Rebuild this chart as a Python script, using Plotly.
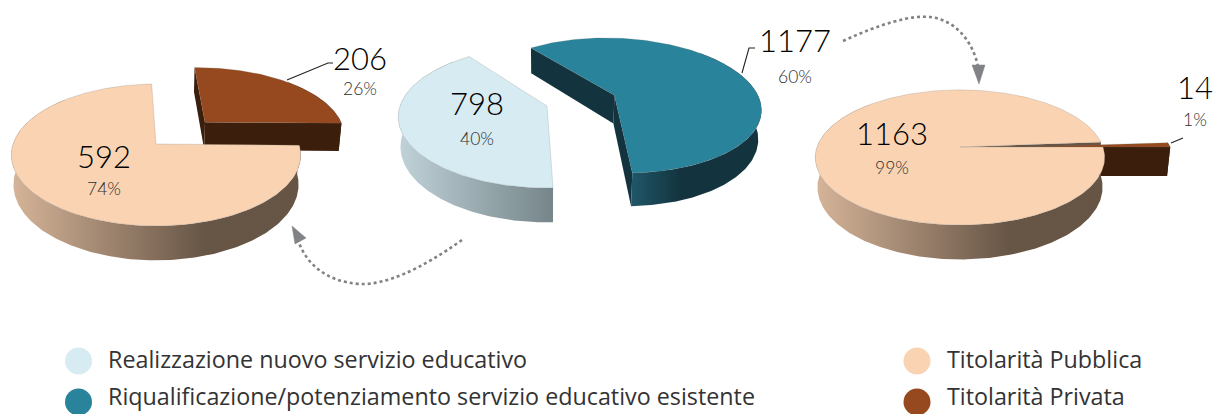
import numpy as np
import plotly.graph_objects as go

# ---------- data ----------
tipo_labels = ["Realizzazione nuovo servizio educativo", "Riqualificazione/potenziamento servizio educativo esistente"]
tipo_values = [798, 1177]
nuovo_values = [592, 206]
riqual_values = [1163, 14]
titolarita_labels = ["Titolarità Pubblica", "Titolarità Privata"]

# ---------- style ----------
PEACH, BROWN, BROWN_DK = "#f9d3b2", "#96491f", "#3b1e0b"
LIGHT, TEAL, TEAL_DK = "#d6ebf2", "#28839b", "#13343f"
GREY = "#808285"
PEACH_WALL = [[0, "#d6b599"], [0.67, "#675546"], [1, "#665445"]]
LIGHT_WALL = [[0, "#bfd2d8"], [1, "#76868a"]]
TEAL_WALL = [[0, "#20586a"], [1, "#13343f"]]
NUM_FONT = "Lato"
TXT_FONT = "Open Sans"

K, THICK, SHRINK = 0.155, 29, 0.985
fig = go.Figure()


def proj(p, X, Y, low=False):
    X, Y = np.asarray(X, float), np.asarray(Y, float)
    w = 1 + K * Y
    sx = p["ax"] + p["A"] * X / w
    sy = p["ay"] - p["B"] * Y / w
    if low:
        sx = p["ax"] + (sx - p["ax"]) * SHRINK
        sy = sy + THICK / w
    return sx, sy


def rim(p, off, a0, a1, n=160):
    phi = np.radians(np.linspace(a0, a1, max(int(abs(a1 - a0)), 2) + n // 8))
    return off[0] + np.sin(phi), off[1] + np.cos(phi)


def poly(xs, ys, color=None, gradient=None, edge=None, name=None):
    kw = dict(x=list(xs), y=list(ys), mode="lines", fill="toself", hoverinfo="skip", showlegend=False)
    if gradient:
        kw["fillgradient"] = dict(type="horizontal", colorscale=gradient[0], start=gradient[1], stop=gradient[2])
        kw["fillcolor"] = "rgba(0,0,0,0)"
    else:
        kw["fillcolor"] = color
    kw["line"] = dict(color=edge or "rgba(0,0,0,0)", width=0.6 if edge else 0)
    fig.add_trace(go.Scatter(**kw))


def top(p, off, a0, a1, color):
    X, Y = rim(p, off, a0, a1)
    X = np.r_[off[0], X, off[0]]
    Y = np.r_[off[1], Y, off[1]]
    sx, sy = proj(p, X, Y)
    poly(sx, sy, color, edge="rgba(110,110,110,0.35)")


def wall(p, off, a0, a1, color=None, gradient=None):
    # outer wall, kept to the side that faces the viewer
    while a1 < 45:
        a0, a1 = a0 + 360, a1 + 360
    lo, hi = max(a0, 45), min(a1, 315)
    if a0 >= 360 - 45 and a1 > 405:
        lo, hi = 405, min(a1, 675)
    X, Y = rim(p, off, lo, hi)
    sx, sy = proj(p, X, Y)
    bx, by = proj(p, X, Y, low=True)
    poly(np.r_[sx, bx[::-1], sx[0]], np.r_[sy, by[::-1], sy[0]], color, gradient)


def face(p, off, a, color=None, gradient=None):
    # flat cut face between the slice centre and the rim
    X, Y = rim(p, off, a, a + 0.001)
    px, py = [off[0], X[0]], [off[1], Y[0]]
    sx, sy = proj(p, px, py)
    bx, by = proj(p, px, py, low=True)
    poly([sx[0], sx[1], bx[1], bx[0], sx[0]], [sy[0], sy[1], by[1], by[0], sy[0]], color, gradient)


def shares(values, start):
    t = sum(values)
    out, a = [], start
    for v in values:
        out.append((a, a + 360 * v / t))
        a += 360 * v / t
    return out


# ---------- left pie ----------
PL = dict(ax=156, ay=144, A=143, B=69.3)
(b0, b1), (c0, c1) = shares(nuovo_values[::-1], -2)
off = (0.36, 0.33)
face(PL, off, b0, BROWN_DK)
face(PL, off, b1, BROWN_DK)
wall(PL, off, b0, b1, BROWN_DK)
top(PL, off, b0, b1, BROWN)
wall(PL, (0, 0), c0, c1, gradient=(PEACH_WALL, 11, 300))
top(PL, (0, 0), c0, c1, PEACH)

# ---------- centre pie ----------
PC = dict(ax=547, ay=106, A=147, B=69.3)
(l0, l1), (t0, t1) = shares(tipo_values, 178)
wall(PC, (0, 0), l0, l1, gradient=(LIGHT_WALL, 400, 552))
top(PC, (0, 0), l0, l1, LIGHT)
off = (0.47, 0.16)
face(PC, off, t0, TEAL_DK)
face(PC, off, t1, TEAL_DK)
wall(PC, off, t0, t1, gradient=(TEAL_WALL, 630, 680))
top(PC, off, t0, t1, TEAL)

# ---------- right pie ----------
PR = dict(ax=960, ay=147, A=143, B=66)
(p0, p1), (q0, q1) = shares(riqual_values, 90)
q0, q1 = q0 - 360, q1 - 360
off = (0.47, 0.0)
face(PR, (0, 0), q0, gradient=([[0, "#a08c7c"], [0.4, "#665445"], [1, "#665445"]], 960, 1100))
face(PR, off, q1, BROWN_DK)
wall(PR, off, q0, q1, BROWN_DK)
top(PR, off, q0, q1, BROWN)
wall(PR, (0, 0), p0, p1, gradient=(PEACH_WALL, 815, 1104))
top(PR, (0, 0), p0, p1, PEACH)

# ---------- labels ----------
def pct(v, vals):
    return f"{round(100 * v / sum(vals))}%"


labels = [
    (nuovo_values[0], nuovo_values, 104, 160.5, 191),
    (nuovo_values[1], nuovo_values, 360, 62.5, 91),
    (tipo_values[0], tipo_values, 477, 107.5, 141),
    (tipo_values[1], tipo_values, 795, 44.5, 79),
    (riqual_values[0], riqual_values, 892, 137.5, 170),
    (riqual_values[1], riqual_values, 1195, 91.5, 122),
]
for v, vals, x, y1, y2 in labels:
    fig.add_trace(go.Scatter(x=[x], y=[y1], mode="text", text=[str(v)], showlegend=False, hoverinfo="skip",
                             textfont=dict(family=NUM_FONT, size=31, color="#000000", weight=300)))
    fig.add_trace(go.Scatter(x=[x], y=[y2], mode="text", text=[pct(v, vals)], showlegend=False, hoverinfo="skip",
                             textfont=dict(family=NUM_FONT, size=17.5, color="#2e2e2e", weight=300)))

# ---------- legend ----------
legend = [
    (tipo_labels[0], LIGHT, 78.5, 361), (tipo_labels[1], TEAL, 78.5, 402),
    (titolarita_labels[0], PEACH, 917, 361), (titolarita_labels[1], BROWN, 917, 402),
]
for name, col, x, y in legend:
    fig.add_trace(go.Scatter(x=[x], y=[y], mode="markers", marker=dict(size=27, color=col), showlegend=False,
                             hoverinfo="skip", cliponaxis=False))
    # keep the whole line box inside the page on the lower row
    fig.add_annotation(x=x + 27.5, y=min(y - 1 + 16.5, 413.5), text=name, showarrow=False, xanchor="left",
                       yanchor="bottom", font=dict(family=TXT_FONT, size=23.3, color="#333333"))

# ---------- leaders and arrows ----------
shapes = []
for path in ["M287,80 L328,63 L333,63", "M742,73 L749,48 L755,48", "M1171,143 L1183,138"]:
    shapes.append(dict(type="path", path=path, line=dict(color="#222222", width=1.1), xref="x", yref="y"))
for path in ["M462,240 C420,270 385,285 360,284 C325,282 305,262 298,240",
             "M843,41 C880,24 910,15 930,17 C955,20 972,40 978,66"]:
    shapes.append(dict(type="path", path=path, line=dict(color=GREY, width=2.6, dash="dot"), xref="x", yref="y"))
for path in ["M292,226 L306,238 L295,244 Z", "M979,84 L972,65 L985,65 Z"]:
    shapes.append(dict(type="path", path=path, fillcolor=GREY, line=dict(color=GREY, width=0.5), xref="x", yref="y"))

fig.update_layout(
    width=1215, height=414, margin=dict(l=0, r=0, t=0, b=0),
    paper_bgcolor="white", plot_bgcolor="white", showlegend=False, shapes=shapes,
    xaxis=dict(range=[0, 1215], visible=False, fixedrange=True),
    yaxis=dict(range=[414, 0], visible=False, fixedrange=True),
)
fig.write_html("out.html", config={"displayModeBar": False},
               post_script="document.body.style.margin='0';")
